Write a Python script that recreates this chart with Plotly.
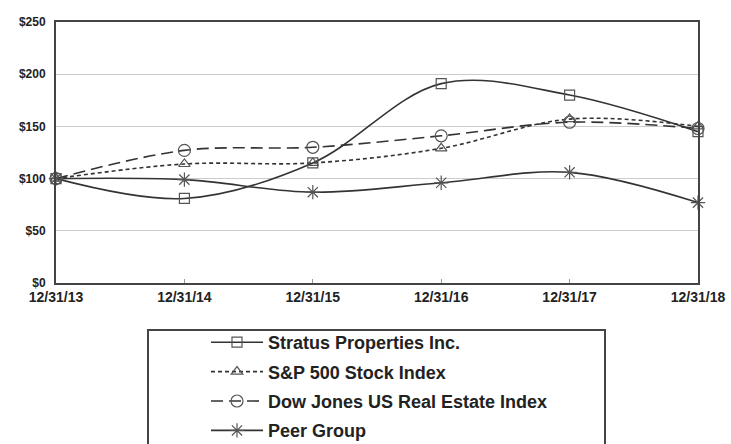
import plotly.graph_objects as go

dates = ["12/31/13", "12/31/14", "12/31/15", "12/31/16", "12/31/17", "12/31/18"]
stratus = [100, 81, 115, 191, 180, 145]
sp500 = [100, 114, 115, 129, 157, 150]
dowjones = [100, 127, 130, 141, 154, 148]
peer = [100, 99, 87, 96, 106, 77]
y_ticks = [0, 50, 100, 150, 200, 250]
y_labels = ["$0", "$50", "$100", "$150", "$200", "$250"]

xpos = list(range(len(dates)))
LINE = "#333333"
MK = "#555555"

series = [
    ("Stratus Properties Inc.", stratus, "solid", "square-open", 10),
    ("S&P 500 Stock Index", sp500, "4px,3px", "triangle-up-open", 10),
    ("Dow Jones US Real Estate Index", dowjones, "12px,6px", "circle-open", 12),
    ("Peer Group", peer, "solid", "asterisk-open", 12),
]

fig = go.Figure()
for i, (name, vals, dash, sym, sz) in enumerate(series):
    fig.add_trace(go.Scatter(
        x=xpos, y=vals, name=name, mode="lines+markers",
        line=dict(color=LINE, width=1.6, dash=dash, shape="spline", smoothing=1),
        marker=dict(symbol=sym, size=sz, color=MK, line=dict(color=MK, width=1.2)),
        legendgroup=f"g{i}", cliponaxis=False,
    ))

W, H = 731, 444
fig.update_layout(
    width=W, height=H,
    margin=dict(l=56, r=33, t=22, b=161, autoexpand=False),
    paper_bgcolor="white", plot_bgcolor="white",
    font=dict(family="Liberation Sans, Arial, sans-serif", color="#222222"),
    showlegend=True,
    legend=dict(
        xref="container", yref="container",
        x=206 / W, y=1 - 324 / H, xanchor="left", yanchor="top",
        orientation="v", traceorder="grouped", tracegroupgap=3,
        itemwidth=52, bgcolor="rgba(0,0,0,0)",
        font=dict(size=18, family="Liberation Sans, Arial, sans-serif", color="#222222", weight="bold"),
    ),
    xaxis=dict(
        range=[0, 5], tickvals=xpos, ticktext=dates, automargin=False,
        showgrid=False, zeroline=False,
        showline=True, mirror=True, linecolor="#444444", linewidth=2,
        ticks="inside", ticklen=4, tickcolor="#999999",
        tickfont=dict(size=14, weight="bold", color="#222222"),
    ),
    yaxis=dict(
        range=[0, 250], tickvals=y_ticks, ticktext=y_labels, automargin=False,
        showgrid=True, gridcolor="#cccccc", gridwidth=1, zeroline=False,
        showline=True, mirror=True, linecolor="#444444", linewidth=2,
        ticks="", ticklabelstandoff=6,
        tickfont=dict(size=12, weight="bold", color="#222222"),
    ),
    shapes=[dict(
        type="rect", xref="paper", yref="paper",
        x0=(148 - 56) / 642, x1=(605 - 56) / 642,
        y0=(283 - 470) / 261, y1=(283 - 330) / 261,
        line=dict(color="#444444", width=2), fillcolor="rgba(0,0,0,0)",
    )],
)

fig.write_html(
    "out.html",
    config={"displayModeBar": False},
    post_script="document.body.style.margin='0';document.body.style.overflow='hidden';",
)
